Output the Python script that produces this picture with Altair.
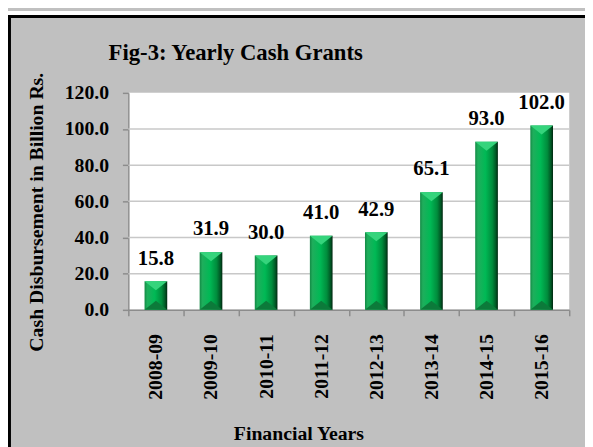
import altair as alt
import pandas as pd

years = ["2008-09", "2009-10", "2010-11", "2011-12", "2012-13", "2013-14", "2014-15", "2015-16"]
values = [15.8, 31.9, 30.0, 41.0, 42.9, 65.1, 93.0, 102.0]
y_ticks = [0, 20, 40, 60, 80, 100, 120]
grid_vals = [20, 40, 60, 80, 100]

title_text = "Fig-3: Yearly Cash Grants"
y_title = "Cash Disbursement in Billion Rs."
x_title = "Financial Years"

df = pd.DataFrame({"year": years, "value": values})
gdf = pd.DataFrame({"g": grid_vals})
one = pd.DataFrame({"k": [0]})

FONT = "Liberation Serif"
W, H = 447, 220
PL, PT = 122, 83
CW, CH = 585, 439

yscale = alt.Scale(domain=[0, 120], nice=False, zero=True)
xscale = alt.Scale(paddingInner=0, paddingOuter=0)

xaxis = alt.Axis(title=None, labelAngle=270, labelFont=FONT, labelFontWeight="bold",
                 labelFontSize=20, labelColor="black", labelPadding=18,
                 tickSize=6, tickColor="#8c8c8c", tickWidth=1.5, tickBand="extent",
                 domainColor="#8c8c8c", domainWidth=1.5, grid=False)
yaxis = alt.Axis(title=None, values=y_ticks, format=".1f", labelFont=FONT,
                 labelFontWeight="bold", labelFontSize=20, labelColor="black",
                 labelPadding=14, tickSize=6, tickColor="#8c8c8c", tickWidth=1.5,
                 domainColor="#8c8c8c", domainWidth=1.5, grid=False)

X = lambda: alt.X("year:N", sort=years, scale=xscale, axis=xaxis)

grid = alt.Chart(gdf).mark_rule(color="#c8c8c8", strokeWidth=1.5).encode(
    y=alt.Y("g:Q", scale=yscale, axis=yaxis)
)

bar_grad = alt.LinearGradient(
    gradient="linear", x1=0, x2=1, y1=0, y2=0,
    stops=[
        alt.GradientStop(offset=0, color="#138a45"),
        alt.GradientStop(offset=0.12, color="#1fae5c"),
        alt.GradientStop(offset=0.45, color="#00b955"),
        alt.GradientStop(offset=0.75, color="#008c3c"),
        alt.GradientStop(offset=0.9, color="#005a26"),
        alt.GradientStop(offset=1, color="#002810"),
    ],
)

base = alt.Chart(df)

bars = base.mark_bar(size=23, color=bar_grad).encode(
    x=X(),
    y=alt.Y("value:Q", scale=yscale, axis=yaxis),
)

top_bevel = base.mark_point(shape="M-1,0L1,0L0,0.8Z", size=529, filled=True,
                            fill="#35d47c", opacity=1, strokeWidth=0).encode(
    x=X(),
    y=alt.Y("value:Q", scale=yscale, axis=yaxis),
)

bottom_bevel = base.mark_point(shape="M-1,0L1,0L0,-0.8Z", size=529, filled=True,
                               fill="#0c7a3a", opacity=1, strokeWidth=0).encode(
    x=X(),
    y=alt.Y(datum=0, scale=yscale, axis=yaxis),
)

labels = base.mark_text(font=FONT, fontWeight="bold", fontSize=21, color="black",
                        baseline="alphabetic", dy=-17).encode(
    x=X(),
    y=alt.Y("value:Q", scale=yscale, axis=yaxis),
    text=alt.Text("value:Q", format=".1f"),
)

title = alt.Chart(one).mark_text(text=title_text, font=FONT, fontWeight="bold", fontSize=23,
                                 color="black", align="left", baseline="alphabetic").encode(
    x=alt.value(-20), y=alt.value(-33)
)

ytitle = alt.Chart(one).mark_text(text=y_title, font=FONT, fontWeight="bold", fontSize=20,
                                  color="black", align="center", baseline="alphabetic",
                                  angle=270).encode(
    x=alt.value(-87), y=alt.value(121)
)

xtitle = alt.Chart(one).mark_text(text=x_title, font=FONT, fontWeight="bold", fontSize=20,
                                  color="black", align="center", baseline="alphabetic").encode(
    x=alt.value(173), y=alt.value(352)
)

white_strip = alt.Chart(one).mark_rect(color="white").encode(
    x=alt.value(-PL), x2=alt.value(CW), y=alt.value(-PT), y2=alt.value(-PT + 4)
)

border = alt.Chart(one).mark_rect(fill="transparent", stroke="black", strokeWidth=3).encode(
    x=alt.value(-PL + 1.5), x2=alt.value(CW + 20),
    y=alt.value(-PT + 5.5), y2=alt.value(CH + 20)
)

chart = alt.layer(
    grid, bars, top_bevel, bottom_bevel, labels, title, ytitle, xtitle, white_strip, border
).properties(
    width=W, height=H,
    background="#C0C0C0",
    padding={"left": PL, "top": PT, "right": CW - PL - W, "bottom": CH - PT - H},
    autosize=alt.AutoSizeParams(type="none"),
).configure_view(fill="white", strokeWidth=0)

chart.save("out.html", embed_options={"renderer": "svg", "actions": False})
